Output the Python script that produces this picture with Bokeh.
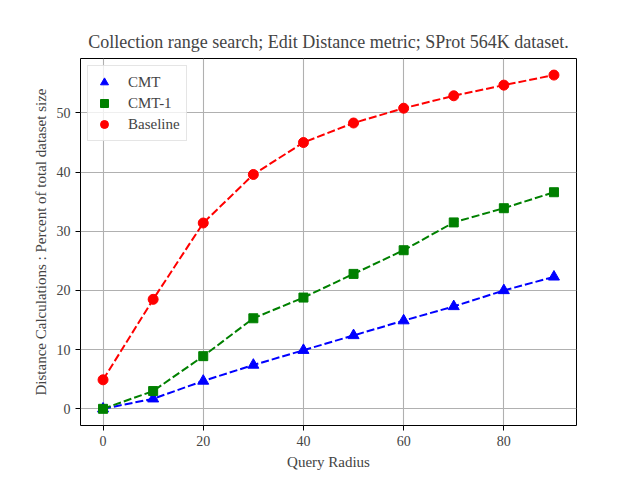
from bokeh.plotting import figure
from bokeh.models import FixedTicker, Legend, LegendItem, Range1d
from bokeh.embed import file_html
from bokeh.resources import INLINE

radius = [0, 10, 20, 30, 40, 50, 60, 70, 80, 90]
cmt = [0.0, 1.7, 4.7, 7.4, 9.9, 12.4, 14.9, 17.3, 20.0, 22.3]
cmt1 = [0.0, 3.0, 8.9, 15.3, 18.8, 22.8, 26.8, 31.5, 33.9, 36.6]
baseline = [4.9, 18.5, 31.4, 39.6, 45.0, 48.3, 50.8, 52.9, 54.7, 56.4]
x_ticks = [0, 20, 40, 60, 80]
y_ticks = [0, 10, 20, 30, 40, 50]

FONT = "Liberation Serif"

p = figure(width=632, height=472, output_backend="svg", toolbar_location=None,
           x_range=Range1d(-4.5, 94.5), y_range=Range1d(-2.82, 59.2),
           min_border_left=80, min_border_right=56, min_border_top=58, min_border_bottom=45)

p.title.text = "Collection range search; Edit Distance metric; SProt 564K dataset."
p.title.text_font = FONT
p.title.text_font_size = "18px"
p.title.text_font_style = "normal"
p.title.align = "center"
p.title.offset = 0
p.title.standoff = 13

p.outline_line_color = "black"
p.outline_line_width = 1

for ax in (p.xaxis[0], p.yaxis[0]):
    ax.axis_line_color = None
    ax.major_label_text_font = FONT
    ax.major_label_text_font_size = "14px"
    ax.axis_label_text_font = FONT
    ax.axis_label_text_font_size = "15px"
    ax.axis_label_text_font_style = "normal"
    ax.minor_tick_line_color = None
    ax.major_tick_in = 0
    ax.major_tick_out = 5
    ax.major_tick_line_color = "black"

p.xaxis[0].ticker = FixedTicker(ticks=x_ticks)
p.yaxis[0].ticker = FixedTicker(ticks=y_ticks)
p.xaxis[0].axis_label = "Query Radius"
p.yaxis[0].axis_label = "Distance Calculations : Percent of total dataset size"
p.yaxis[0].major_label_orientation = "horizontal"

for g in (p.xgrid[0], p.ygrid[0]):
    g.grid_line_color = "#b0b0b0"
    g.grid_line_width = 1.1
p.xgrid[0].ticker = FixedTicker(ticks=x_ticks)
p.ygrid[0].ticker = FixedTicker(ticks=y_ticks)

series = [
    ("CMT", cmt, "blue", "triangle", 11),
    ("CMT-1", cmt1, "green", "square", 9),
    ("Baseline", baseline, "red", "circle", 10),
]
items = []
for name, ys, color, marker, size in series:
    p.line(radius, ys, line_color=color, line_width=2, line_dash="8 3")
    r = p.scatter(radius, ys, marker=marker, size=size, fill_color=color, line_color=color)
    items.append(LegendItem(label=name, renderers=[r]))

legend = Legend(items=items, location="top_left", margin=7, padding=6, spacing=1,
                label_height=20, glyph_height=20, glyph_width=20, label_standoff=14,
                label_text_font=FONT, label_text_font_size="15px",
                border_line_color="#cccccc", border_line_width=1,
                background_fill_color="white", background_fill_alpha=0.8)
p.add_layout(legend)

open("out.html", "w").write(file_html(p, INLINE))
